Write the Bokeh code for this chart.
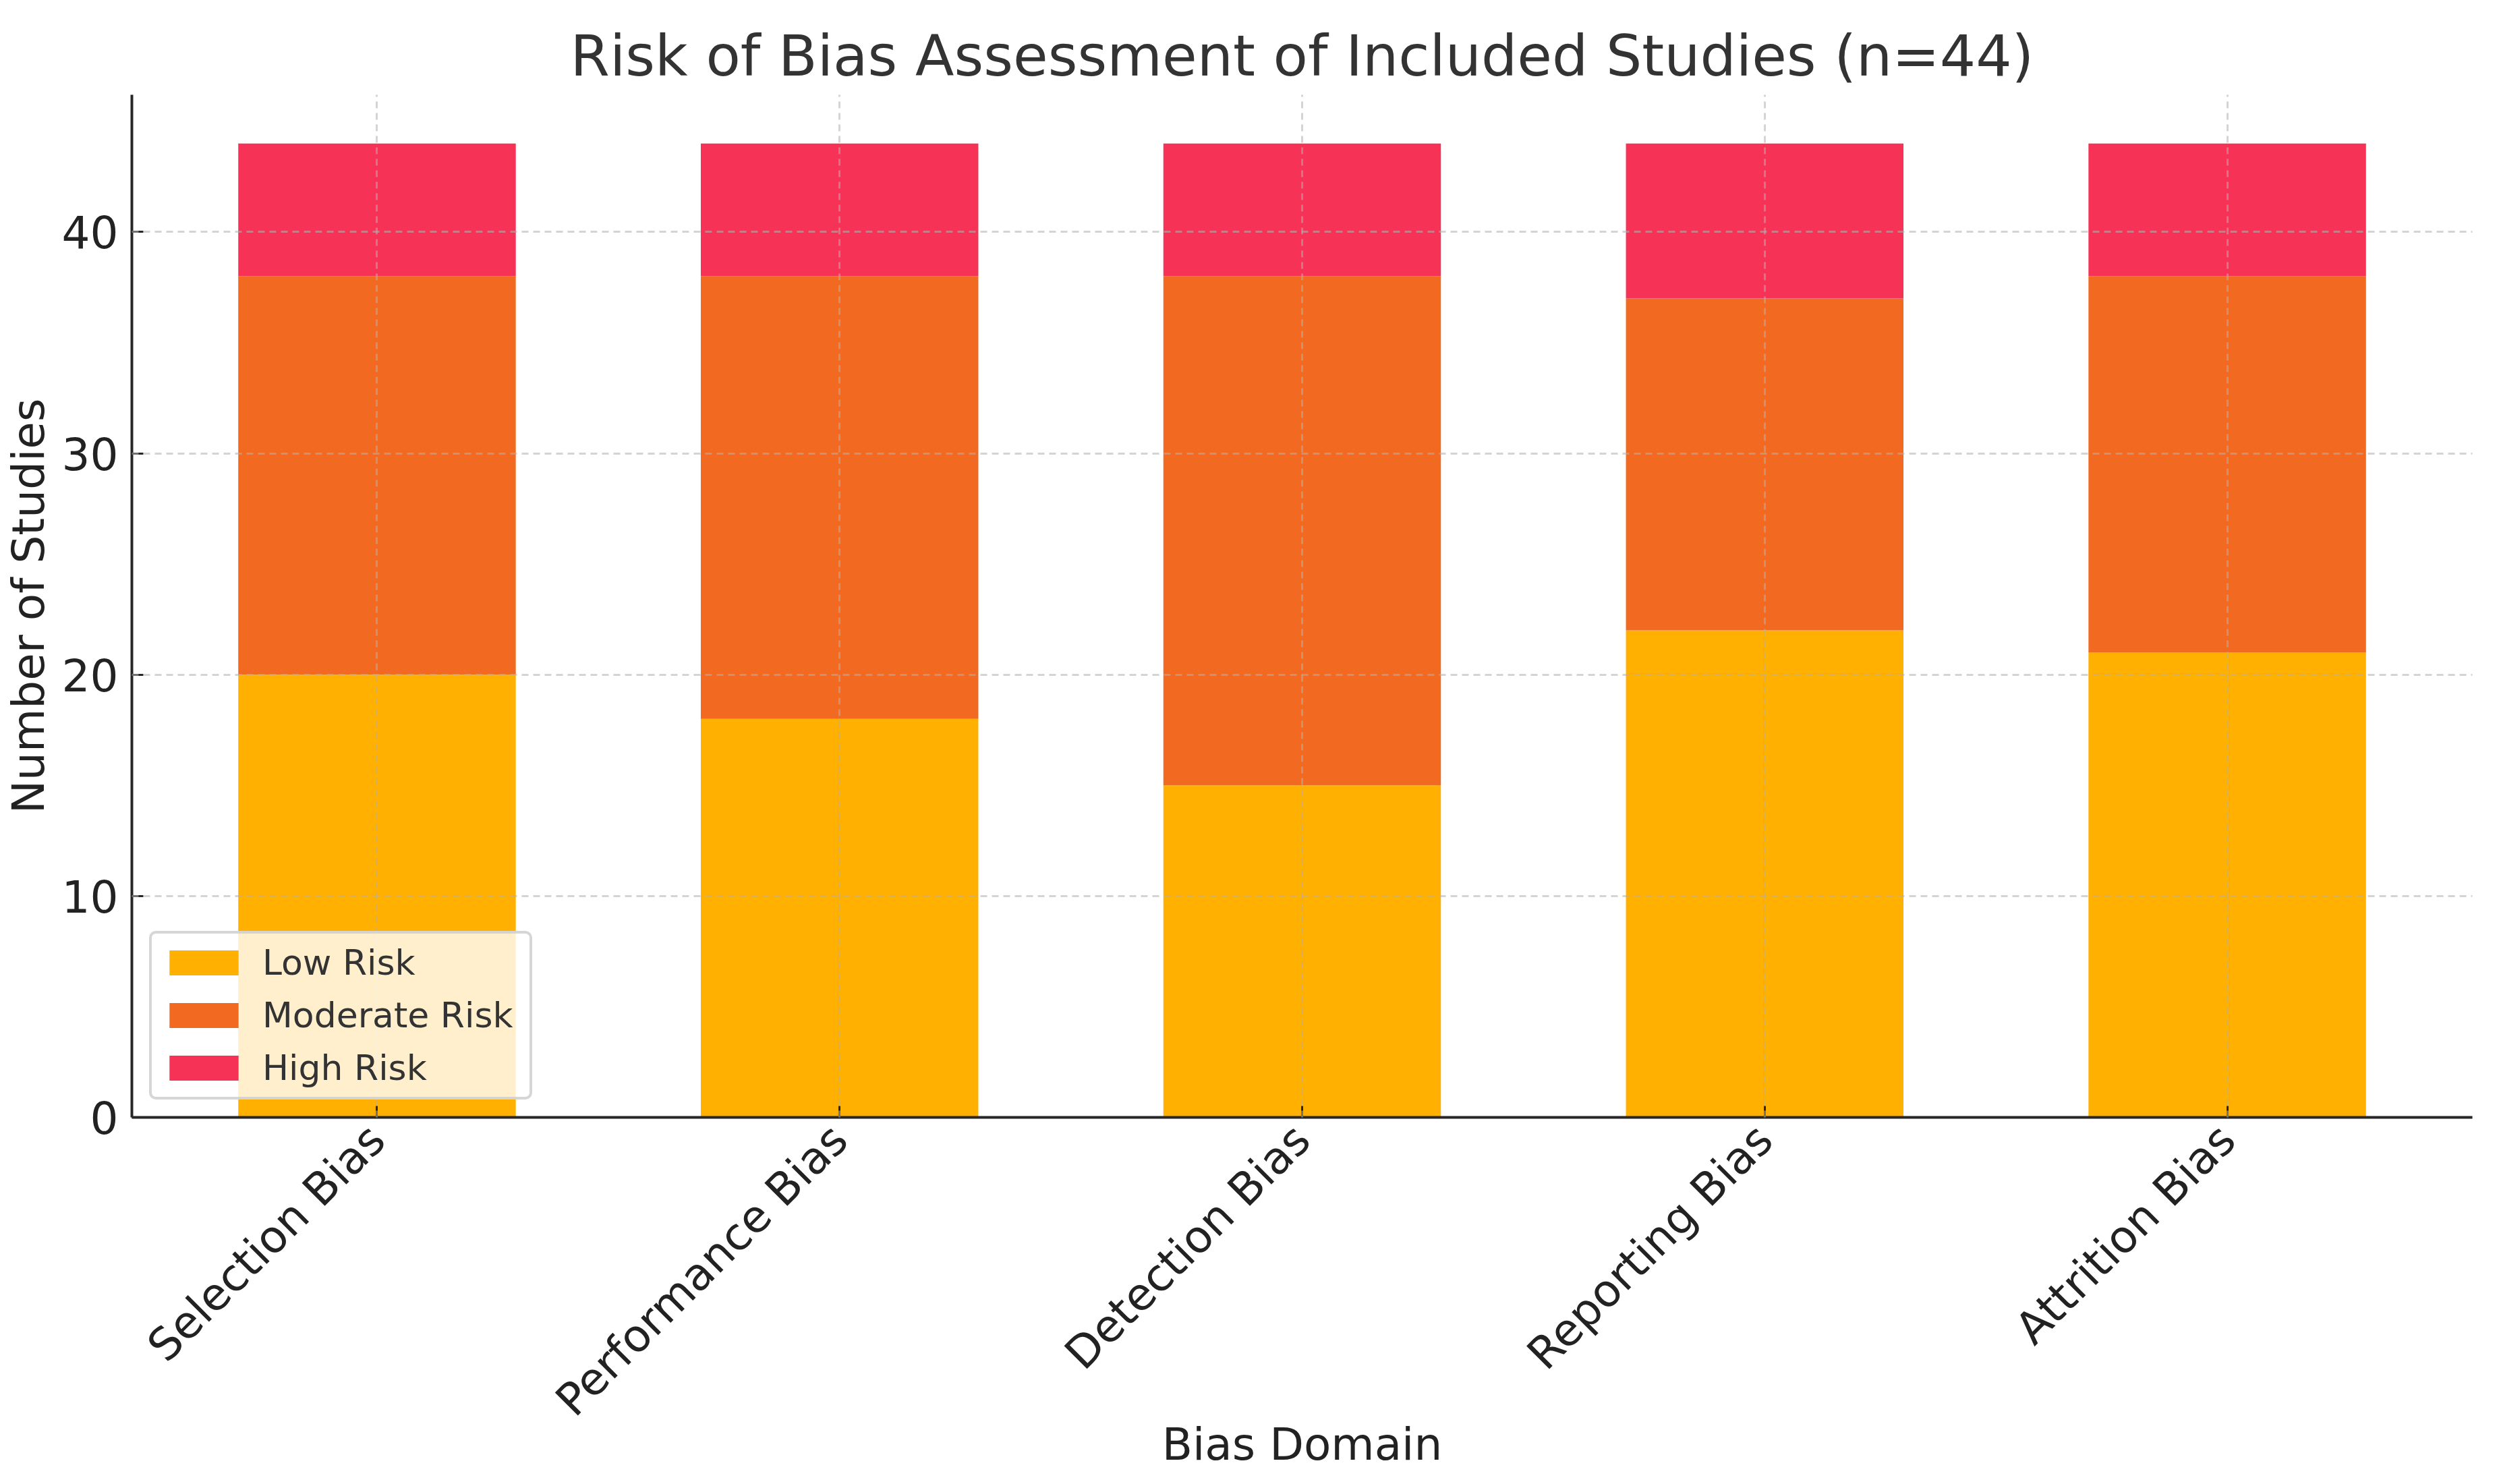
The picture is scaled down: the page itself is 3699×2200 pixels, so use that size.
import math
from bokeh.plotting import figure
from bokeh.models import FactorRange, Range1d, FixedTicker, ColumnDataSource
from bokeh.embed import file_html
from bokeh.resources import INLINE

# ---- data ----
domains = ["Selection Bias", "Performance Bias", "Detection Bias", "Reporting Bias", "Attrition Bias"]
low_risk = [20, 18, 15, 22, 21]
moderate_risk = [18, 20, 23, 15, 17]
high_risk = [6, 6, 6, 7, 6]
risk_levels = ["Low Risk", "Moderate Risk", "High Risk"]
risk_colors = ["#FFB000", "#F26A22", "#F73257"]
y_ticks = [0, 10, 20, 30, 40]
n_studies = 44
title_text = "Risk of Bias Assessment of Included Studies (n=44)"

FONT = "DejaVu Sans"

source = ColumnDataSource(dict(domain=domains, low=low_risk, moderate=moderate_risk, high=high_risk))

p = figure(
    width=3683, height=2184,
    x_range=FactorRange(*domains, range_padding=0.012),
    y_range=Range1d(0, n_studies * 1.05),
    output_backend="svg", toolbar_location=None,
    title=title_text,
    min_border_left=188, min_border_right=18,
    min_border_top=140, min_border_bottom=528,
)

p.vbar_stack(["low", "moderate", "high"], x="domain", width=0.6, source=source,
             fill_color=risk_colors, line_color=None, legend_label=risk_levels)

p.outline_line_color = None
p.background_fill_color = "white"

# title
p.title.text_font = FONT
p.title.text_font_size = "84px"
p.title.text_font_style = "normal"
p.title.text_color = "#333333"
p.title.align = "center"
p.title.standoff = 18

# axes
for ax in (p.xaxis[0], p.yaxis[0]):
    ax.axis_line_color = "#262626"
    ax.axis_line_width = 4
    ax.major_tick_line_color = "#262626"
    ax.major_tick_line_width = 3
    ax.major_tick_in = 17
    ax.major_tick_out = 0
    ax.minor_tick_line_color = None
    ax.major_label_text_font = FONT
    ax.major_label_text_font_size = "66px"
    ax.major_label_text_color = "#222222"
    ax.axis_label_text_font = FONT
    ax.axis_label_text_font_size = "66px"
    ax.axis_label_text_font_style = "normal"
    ax.axis_label_text_color = "#222222"

p.yaxis.ticker = FixedTicker(ticks=y_ticks)
p.yaxis.axis_label = "Number of Studies"
p.yaxis.major_label_standoff = 20
p.yaxis.axis_label_standoff = 8

p.xaxis.axis_label = "Bias Domain"
p.xaxis.major_label_orientation = math.pi / 4
p.xaxis.major_label_standoff = 22
p.xaxis.axis_label_standoff = -41

# grid above bars
p.ygrid.ticker = FixedTicker(ticks=[t for t in y_ticks if t > 0])
for g in (p.xgrid[0], p.ygrid[0]):
    g.grid_line_color = "#b0b0b0"
    g.grid_line_alpha = 0.55
    g.grid_line_width = 3
    g.grid_line_dash = "10 7"
    g.level = "guide"

# legend
lg = p.legend[0]
lg.location = "bottom_left"
lg.margin = 26
lg.padding = 13
lg.spacing = 18
lg.glyph_width = 128
lg.glyph_height = 46
lg.label_standoff = 23
lg.label_width = 383
lg.label_text_font = FONT
lg.label_text_font_size = "52px"
lg.label_text_color = "#333333"
lg.background_fill_color = "white"
lg.background_fill_alpha = 0.8
lg.border_line_color = "#cccccc"
lg.border_line_width = 4
lg.border_line_alpha = 0.8
if "border_radius" in lg.properties():
    lg.border_radius = 10

open("out.html", "w").write(file_html(p, INLINE))
